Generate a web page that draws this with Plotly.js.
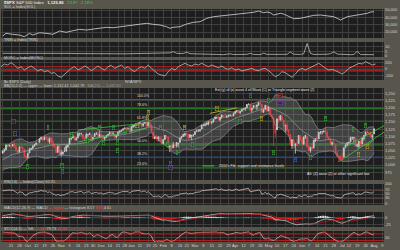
<!DOCTYPE html>
<html><head><meta charset="utf-8">
<script src="https://cdn.plot.ly/plotly-3.0.1.min.js"></script>
<style>html,body{margin:0;padding:0;background:#57554c;}#chart{width:400px;height:250px;}</style>
</head><body><div id="chart"></div>
<script>
// ---------- DATA ----------
// warm-up bars (Aug 14 - Sep 11 2009), used only for indicators
const warmOpen  = [1012,998,980,986,996,1010,1026,1026,1027,1027,1032,1026,1019,997,997,1004,1019,1025,1032,1045];
const warmHigh  = [1012,998,991,999,1008,1027,1035,1037,1033,1033,1040,1026,1028,1000,1004,1017,1026,1036,1045,1049];
const warmLow   = [995,979,980,980,993,1009,1024,1026,1021,1017,1021,1015,997,991,993,1001,1018,1023,1028,1039];
const warmClose = [1004,980,990,996,1007,1026,1026,1028,1028,1031,1029,1021,998,995,1003,1016,1025,1033,1044,1043];

// $SPX daily bars Sep 14 2009 - Aug 2 2010
const openP = [
1042,1049,1053,1068,1067,1066,1066,1072,1063,1050,1045,1063,1061,
1055,1029,1026,1042,1054,1058,1065,1071,1075,1079,1091,1094,1088,1098,1091,1080,1095,1080,1067,1061,1044,1066,
1037,1040,1047,1048,1064,1072,1092,1094,1098,1087,1094,1109,1110,1106,1094,1092,1106,1106,1105,1091,
1099,1109,1110,1100,1106,1103,1092,1096,1103,1107,1114,1108,1106,1097,1103,1114,1118,1121,1127,1128,1125,1127,
1117,1133,1136,1136,1141,1146,1144,1137,1146,1147,1136,1148,1138,1115,1092,1096,1092,1097,1086,
1074,1090,1101,1097,1064,1066,1060,1070,1068,1075,1079,1096,1099,1105,1110,1107,1096,1101,1104,
1106,1117,1119,1119,1125,1139,1137,1140,1143,1151,1148,1150,1160,1166,1166,1157,1166,1172,1168,1167,1168,1173,1172,
1171,1179,1186,1189,1182,1187,1194,1195,1199,1211,1210,1192,1199,1207,1203,1208,1217,1211,1184,1193,1207,
1188,1198,1169,1164,1127,1123,1156,1156,1170,1157,1137,1139,1119,1107,1068,1085,1068,1076,1075,1102,
1087,1073,1098,1099,1065,1050,1063,1059,1083,1096,1091,1114,1115,1116,1122,1113,1095,1090,1072,1077,1071,1041,
1031,1028,1029,1029,1061,1070,1078,1080,1095,1095,1094,1066,1065,1084,1073,1092,1102,1117,1113,1109,1098,
1108];
const highP = [
1050,1056,1072,1075,1071,1067,1073,1081,1067,1054,1065,1070,1064,
1055,1031,1043,1060,1059,1070,1073,1079,1075,1093,1097,1095,1099,1099,1101,1096,1095,1092,1073,1063,1068,1067,
1052,1047,1062,1067,1072,1094,1096,1106,1101,1097,1114,1111,1112,1106,1095,1112,1107,1111,1105,1098,
1112,1115,1118,1120,1107,1104,1098,1105,1109,1115,1114,1117,1106,1103,1118,1120,1121,1127,1131,1130,1127,1128,
1134,1137,1140,1143,1145,1150,1144,1148,1149,1148,1150,1148,1142,1116,1102,1104,1100,1100,1096,
1090,1105,1103,1097,1068,1072,1080,1073,1080,1077,1095,1100,1109,1112,1112,1108,1108,1103,1108,
1117,1124,1125,1124,1140,1141,1146,1148,1151,1154,1151,1160,1169,1167,1170,1167,1175,1173,1181,1174,1175,1177,1174,
1182,1188,1192,1190,1188,1195,1199,1199,1211,1213,1211,1198,1209,1208,1210,1217,1220,1212,1196,1210,1209,
1205,1198,1176,1168,1136,1163,1171,1172,1174,1157,1141,1148,1124,1107,1090,1090,1075,1090,1103,1102,
1095,1098,1105,1099,1070,1063,1077,1087,1092,1105,1115,1118,1118,1121,1131,1119,1100,1091,1083,1082,1071,1049,
1033,1033,1043,1061,1071,1078,1080,1099,1099,1097,1094,1075,1084,1087,1097,1104,1115,1121,1114,1115,1107,
1127];
const lowP = [
1039,1044,1053,1061,1064,1057,1066,1060,1045,1041,1045,1057,1048,
1029,1020,1026,1042,1052,1058,1065,1071,1067,1079,1087,1082,1087,1086,1080,1074,1074,1062,1059,1042,1044,1034,
1029,1034,1045,1048,1060,1072,1086,1094,1085,1085,1094,1102,1103,1088,1086,1092,1098,1106,1083,1085,
1099,1105,1099,1094,1098,1088,1085,1096,1101,1107,1105,1107,1092,1093,1103,1114,1116,1121,1125,1126,1122,1115,
1117,1129,1134,1131,1137,1142,1131,1133,1143,1131,1135,1130,1114,1090,1092,1085,1082,1078,1071,
1074,1087,1095,1062,1045,1056,1060,1061,1061,1062,1079,1091,1099,1100,1103,1089,1096,1086,1098,
1106,1116,1116,1116,1125,1136,1135,1140,1138,1146,1141,1148,1160,1160,1155,1152,1161,1165,1165,1163,1168,1168,1168,
1170,1179,1182,1181,1178,1187,1194,1188,1199,1208,1187,1184,1199,1199,1191,1206,1211,1181,1182,1193,1186,
1188,1167,1158,1066,1094,1123,1148,1156,1156,1127,1114,1117,1101,1071,1056,1073,1040,1066,1075,1084,
1069,1070,1091,1060,1050,1043,1053,1059,1081,1089,1091,1107,1106,1113,1108,1094,1087,1071,1068,1071,1036,1029,
1011,1018,1018,1026,1058,1066,1071,1080,1087,1080,1063,1062,1057,1068,1073,1085,1100,1108,1104,1095,1088,
1108];
const closeP = [
1049,1053,1069,1065,1068,1065,1072,1061,1051,1044,1063,1061,1057,
1030,1025,1040,1055,1058,1065,1071,1076,1073,1092,1097,1088,1098,1091,1081,1093,1080,1067,1063,1043,1066,1036,
1043,1045,1047,1067,1069,1093,1093,1099,1087,1093,1109,1110,1110,1095,1091,1106,1106,1111,1091,1096,
1109,1109,1100,1106,1103,1092,1096,1102,1106,1114,1108,1109,1096,1102,1114,1118,1121,1126,1128,1126,1126,1115,
1133,1137,1137,1142,1145,1147,1136,1146,1148,1136,1150,1138,1116,1092,1097,1092,1098,1085,1074,
1089,1103,1097,1063,1066,1057,1071,1068,1078,1076,1095,1100,1107,1109,1108,1095,1105,1103,1104,
1116,1118,1119,1123,1139,1139,1140,1146,1150,1150,1151,1159,1166,1166,1160,1166,1174,1168,1166,1167,1173,1173,1169,
1178,1187,1189,1182,1186,1194,1196,1197,1211,1212,1192,1198,1207,1206,1209,1217,1212,1184,1191,1207,1187,
1202,1174,1166,1128,1111,1160,1156,1172,1157,1136,1137,1121,1115,1072,1088,1074,1074,1068,1103,1089,
1071,1098,1103,1065,1050,1062,1056,1087,1092,1090,1115,1115,1116,1118,1113,1095,1092,1074,1077,1075,1041,1031,
1027,1023,1028,1060,1070,1078,1079,1095,1095,1096,1065,1071,1083,1070,1094,1103,1115,1114,1106,1102,1102,
1126];

// upper panel 1 (SOL): bar index / value
const solIdx = [0,2,6,10,13,16,18,22,26,30,34,38,42,46,50,54,58,62,66,70,74,78,82,86,90,94,98,100,102,106,110,114,118,122,126,130,134,138,142,146,150,153,156,158,160,162,166,168,172,174,178,182,186,190,194,198,200,202,206,210,214,218,220,222];
const solVal = [14500,18200,16850,15900,13570,18200,15900,19000,18200,16850,21350,19600,21750,23650,22700,23650,25050,26400,25850,27200,28600,29550,30900,31850,30500,29550,27200,25050,26400,27200,30900,33200,34050,38700,40850,41800,42750,43600,44550,45500,46850,48650,46300,47250,46300,43200,45500,44550,40050,38150,38700,40850,42750,43200,41800,40850,38700,36350,40850,42200,43200,45500,47250,47700];

// upper panel 2 (TRIN)
const trinIdx = [0,4,8,12,16,20,24,28,32,36,40,44,48,52,56,60,64,68,72,76,80,84,88,92,96,100,102,104,108,110,112,116,120,124,128,132,136,138,142,146,148,150,154,156,158,162,166,170,172,174,178,180,182,184,186,190,194,196,198,200,204,208,210,212,214,218,222];
const trinVal = [3.0,2.8,3.2,2.9,3.0,3.1,2.8,3.0,3.3,3.0,2.9,2.7,2.8,2.6,2.7,2.5,2.6,2.5,2.4,2.5,2.4,2.6,2.5,2.8,3.0,3.5,4.8,3.0,2.8,4.2,2.6,2.2,1.8,1.6,1.8,1.5,2.5,1.7,1.5,1.9,3.0,1.8,1.6,3.2,1.9,1.7,2.0,1.9,4.5,2.0,1.8,2.5,13.6,3.0,1.8,1.6,2.0,2.6,4.6,2.2,1.6,1.5,1.8,5.0,1.7,1.4,1.5];

// upper panel 3 (MOSC), one reading every second bar starting at bar -1
const moscVal = [74,159,127,201,127,21,74,-32,42,95,21,-63,-11,-85,-53,-137,-116,-222,-264,-159,-85,21,74,-32,21,95,42,-53,21,95,21,-32,74,116,21,74,127,21,74,-32,-85,21,74,21,127,21,-63,-159,-190,-222,-85,21,-32,74,127,180,127,95,159,127,180,
127,74,127,74,42,95,21,-11,42,-32,0,-63,-32,-11,21,-32,-53,0,21,-53,-137,-243,-190,-85,-116,-190,-264,-159,-32,21,-32,21,74,127,180,106,21,-32,-11,-53,-116,-159,-85,21,74,127,180,159,233,180,127,159];
const moscStart = -1, moscStep = 2;
const moscLevels = [70, -60];

// main panel horizontal levels (price) and their labels
const fibLevels = [1228, 1196, 1153, 1070, 1028, 990];
const fibLabels = ['100.0%', '78.6%', '61.8%', '50.0%', '38.2%', '23.6%'];
const fibColors = ['#2c7d3a', '#2f9a2f', '#2a6e2a', '#2f9a2f', '#2d4f86', '#2f9a2f'];

// trend lines drawn on the price panel (bar index, price)
const trendX = [[45, 88], [45, 86], [200.8, 229], [204, 229], [124, 140]];
const trendY = [[1122, 1147], [1080, 1129], [1011, 1118], [1060, 1140], [1180, 1199]];
const trendC = ['#3cc83c', '#3cc83c', '#3cc83c', '#3cc83c', '#c8c832'];

// wave labels on the price panel
const waveX = [6.2,7.4,27,14.6,35.5,35.5,41,58,66,51,60,68.4,68.4,75,80.5,86.4,87,94.2,98.4,100.2,100.2,104.4,109,113.4,148,166,166,158.9,128.3,142,155,193,217,209.7,218,162,175,184,212.8];
const waveY = [1150,1111,1129,994,1000,976,1105,1132,1132,1087,1080,1080,1052,1115,1139,1167,1184,1129,1070,1007,990,1045,1129,1070,1243,1243,1219,1226,1195,1153,1163,1163,1139,1122,1063,1042,1018,1025,1035];
const waveT = ['(Y)','C','i','ii','iv','5','a','b','d','c','e','c','ii','iv','w','y','3','a','b','v','(X)','i','b','ii','5','[2]','(W)','v','w','iv','x','b','iii','i','z','a','1','c','ii'];
const waveK = ['p','b','g','g','g','b','g','g','g','g','g','g','g','g','y','y','y','g','g','b','p','g','y','g','b','r','p','g','y','g','y','g','g','g','y','g','b','g','y'];

// calendar
const startDate = '2009-09-14';
const holidays = ['2009-11-26','2009-12-25','2010-01-01','2010-01-18','2010-02-15','2010-04-02','2010-05-31','2010-07-05'];
const futureBars = 5;
const MONTHS = ['Jan','Feb','Mar','Apr','May','Jun','Jul','Aug','Sep','Oct','Nov','Dec'];

// ---------- BUILD ----------
const F = 'Liberation Sans, Arial, sans-serif';
const COL = {panel:'#1e1e1e', grid:'#474747', txt:'#d4d4d4', up:'#e4e4e4', dn:'#ff2a2a', red:'#cc1c1c', teal:'#1d5a60'};
const WAVEC = {g:'#46c846', y:'#d2c83a', b:'#3f7fff', p:'#8a52c8', r:'#ff3030'};

const N = closeP.length;
const xs = closeP.map((_, i) => i);

function buildDates(n) {
  const out = []; const d = new Date(startDate + 'T00:00:00Z');
  while (out.length < n) {
    const iso = d.toISOString().slice(0, 10), dow = d.getUTCDay();
    if (dow !== 0 && dow !== 6 && !holidays.includes(iso)) out.push(new Date(d));
    d.setUTCDate(d.getUTCDate() + 1);
  }
  return out;
}
const dates = buildDates(N + futureBars);
const tickVals = [], tickText = []; let lastMonth = -1;
dates.forEach((d, i) => {
  if (!(i === 0 || d.getUTCDay() < dates[i - 1].getUTCDay())) return;
  const m = d.getUTCMonth(); tickVals.push(i);
  if (m !== lastMonth) { tickText.push(MONTHS[m]); lastMonth = m; } else tickText.push(String(d.getUTCDate()));
});

const W = warmClose.length;
const aH = warmHigh.concat(highP), aL = warmLow.concat(lowP), aC = warmClose.concat(closeP);

// Bollinger (20, 2)
const bbU = [], bbL = [], bbM = [];
for (let i = 0; i < N; i++) {
  const j = i + W; let s = 0; for (let k = j - 19; k <= j; k++) s += aC[k];
  const m = s / 20; let v = 0; for (let k = j - 19; k <= j; k++) v += (aC[k] - m) ** 2;
  const sd = Math.sqrt(v / 20); bbM.push(m); bbU.push(m + 2 * sd); bbL.push(m - 2 * sd);
}
// RSI 14
const rsiAll = new Array(aC.length).fill(null);
let ag = 0, al = 0;
for (let k = 1; k <= 14; k++) { const ch = aC[k] - aC[k - 1]; if (ch > 0) ag += ch; else al -= ch; }
ag /= 14; al /= 14; rsiAll[14] = 100 - 100 / (1 + ag / al);
for (let k = 15; k < aC.length; k++) { const ch = aC[k] - aC[k - 1]; ag = (ag * 13 + Math.max(ch, 0)) / 14; al = (al * 13 + Math.max(-ch, 0)) / 14; rsiAll[k] = al === 0 ? 100 : 100 - 100 / (1 + ag / al); }
const rsi = rsiAll.slice(W);
// MACD 12,26,9
function ema(arr, n) { const a = 2 / (n + 1); const out = [arr[0]]; for (let k = 1; k < arr.length; k++) out.push(a * arr[k] + (1 - a) * out[k - 1]); return out; }
const e12 = ema(aC, 12), e26 = ema(aC, 26);
const macdAll = aC.map((_, k) => e12[k] - e26[k]);
const sigAll = ema(macdAll, 9);
const macd = macdAll.slice(W), sig = sigAll.slice(W), hist = macd.map((m, i) => m - sig[i]);
// Stochastic 14,3
const rawK = aC.map((c, k) => { if (k < 13) return null; let hh = -Infinity, ll = Infinity; for (let q = k - 13; q <= k; q++) { hh = Math.max(hh, aH[q]); ll = Math.min(ll, aL[q]); } return (c - ll) / (hh - ll) * 100; });
const slowK = rawK.map((_, k) => k < 15 ? null : (rawK[k] + rawK[k - 1] + rawK[k - 2]) / 3);
const slowD = slowK.map((_, k) => k < 17 ? null : (slowK[k] + slowK[k - 1] + slowK[k - 2]) / 3);
const stK = slowK.slice(W), stD = slowD.slice(W);

const ln = (x, y, ya, color, w, extra) => Object.assign({type:'scatter', mode:'lines', x, y, yaxis:ya, xaxis:'x', line:{color, width:w}, hoverinfo:'skip', showlegend:false}, extra || {});

const traces = [];
traces.push(ln(solIdx, solVal, 'y', '#d8d8d8', 0.8));
traces.push(ln(trinIdx, trinVal, 'y2', '#cfcfcf', 0.7));
traces.push(ln(moscVal.map((_, i) => moscStart + i * moscStep), moscVal, 'y3', '#cfcfcf', 0.7));
traces.push(ln(xs, bbU, 'y4', '#9a9a9a', 0.6));
traces.push(ln(xs, bbL, 'y4', '#9a9a9a', 0.6, {fill:'tonexty', fillcolor:'rgba(150,150,150,0.30)'}));
traces.push(ln(xs, bbM, 'y4', '#a8a8a8', 0.6));
trendX.forEach((tx, i) => traces.push(ln(tx, trendY[i], 'y4', trendC[i], 0.8)));
traces.push({type:'candlestick', x:xs, open:openP, high:highP, low:lowP, close:closeP, xaxis:'x', yaxis:'y4',
  increasing:{line:{color:COL.up, width:0.8}, fillcolor:COL.up}, decreasing:{line:{color:COL.dn, width:0.8}, fillcolor:COL.dn},
  whiskerwidth:0, hoverinfo:'skip', showlegend:false});
traces.push(ln(xs, rsi, 'y5', '#d0d0d0', 0.7));
traces.push({type:'bar', x:xs, y:hist, xaxis:'x', yaxis:'y6', marker:{color:hist.map(h => h >= 0 ? '#e8e8e8' : '#ff2020'), line:{width:0}}, width:0.8, hoverinfo:'skip', showlegend:false});
traces.push(ln(xs, macd, 'y6', '#d8d8d8', 0.7));
traces.push(ln(xs, sig, 'y6', '#c01818', 0.7));
traces.push(ln(xs, stK, 'y7', '#d0d0d0', 0.7));
traces.push(ln(xs, stD, 'y7', '#c01818', 0.6));

const hline = (ya, y, color, w) => ({type:'line', xref:'x domain', x0:0, x1:1, yref:ya, y0:y, y1:y, line:{color, width:w}, layer:'below'});
const shapes = [];
moscLevels.forEach(v => shapes.push(hline('y3', v, COL.red, 1.1)));
shapes.push(hline('y3', 0, COL.teal, 0.8));
fibLevels.forEach((v, i) => shapes.push(hline('y4', v, fibColors[i], 0.9)));
shapes.push(hline('y5', 70, COL.red, 1)); shapes.push(hline('y5', 30, COL.red, 1));
shapes.push(hline('y6', 0, COL.teal, 0.8));
shapes.push(hline('y7', 80, COL.red, 1)); shapes.push(hline('y7', 20, COL.red, 1));
shapes.push({type:'line', xref:'x', yref:'y4', x0:119.5, x1:126.5, y0:997, y1:997, line:{color:'#3cc83c', width:1}});

const fmt = v => v.toLocaleString('en-US', {minimumFractionDigits:2, maximumFractionDigits:2});
const L = N - 1;
const pa = (txt, x, y, size, color, anchor) => ({xref:'paper', yref:'paper', x, y, text:txt, showarrow:false, xanchor:anchor || 'left', yanchor:'middle', font:{size, color:color || COL.txt, family:F}});
const R = '#ff3a3a';
const ann = [];
ann.push(pa('<b>$SPX</b> S&amp;P 500 Index   <b>1,125.86</b>   <span style="color:#35d835">23.97   2.18%</span>', 0.003, 1.0266, 4.2, '#f0f0f0'));
ann.push(pa('SOL = Index(SOL)', 0.003, 1.0094, 3.8));
ann.push(pa('TRIN = Index(TRIN)', 0.003, 0.8670, 3.8));
ann.push(pa('MOSC = Index(MOSC)', 0.003, 0.7876, 3.8));
ann.push(pa('$n $SPX (Daily)', 0.003, 0.6888, 3.8));
ann.push(pa('NYA/SPX', 0.318, 0.6888, 3.8));
ann.push(pa('BB(20,2.0) — upper — lower ' + fmt(bbU[L]) + ' ' + fmt(bbL[L]) + '   <span style="color:#9a9a9a">MA(20) — ' + fmt(bbM[L]) + '</span>', 0.003, 0.6704, 3.8));
ann.push(pa('RSI(14) — Index(Close) ' + rsi[L].toFixed(2), 0.003, 0.2575, 3.8));
ann.push(pa('MACD(12,26,9) — MACD <span style="color:' + R + '">— signal</span> — histogram ' + macd[L].toFixed(2) + ' <span style="color:' + R + '">' + sig[L].toFixed(2) + '</span> ' + hist[L].toFixed(2), 0.003, 0.1438, 3.8));
ann.push(pa('STO(14,3) — %K <span style="color:' + R + '">— %D</span> ' + stK[L].toFixed(2) + ' <span style="color:' + R + '">' + stD[L].toFixed(2) + '</span>', 0.003, 0.0558, 3.8));

fibLevels.forEach((v, i) => ann.push({xref:'x', yref:'y4', x:79, y:v, text:fibLabels[i], showarrow:false, xanchor:'left', yanchor:'bottom', yshift:-0.5, font:{size:3.6, color:'#d8d8d8', family:F}}));
waveX.forEach((x, i) => {
  const c = WAVEC[waveK[i]];
  ann.push({xref:'x', yref:'y4', x, y:waveY[i], text:waveT[i], showarrow:false, font:{size:3.4, color:c, family:F}, bgcolor:'rgba(20,20,20,0.6)', bordercolor:c, borderwidth:0.4, borderpad:0});
});
ann.push({xref:'x', yref:'y4', x:157, y:1261, text:'Ext (y) of (z) wave 4 of Wave (C) or Triangle segment wave (2)', showarrow:false, font:{size:3.6, color:'#e6e6e6', family:F}});
ann.push({xref:'x', yref:'y4', x:128, y:997, text:"2010's Fib. support and resistance levels", showarrow:false, xanchor:'left', font:{size:3.6, color:'#e6e6e6', family:F}});
ann.push({xref:'x', yref:'y4', x:200.6, y:969, text:'Alt: (Z) wave (2) or other significant low', showarrow:false, font:{size:3.6, color:'#e6e6e6', family:F}});

const yax = (domain, range, tv, tt) => ({domain, range, tickvals:tv, ticktext:tt || tv.map(String), side:'right', anchor:'x', showgrid:true, gridcolor:COL.grid, gridwidth:0.8, zeroline:false, showline:false, ticks:'', tickfont:{size:4, color:COL.txt, family:F}, fixedrange:true});
const mainTicks = [975,1000,1025,1050,1075,1100,1125,1150,1175,1200,1225,1250];

const layout = {
  width:400, height:250, margin:{l:1, r:16, t:9, b:8, pad:0},
  paper_bgcolor:'#57554c', plot_bgcolor:COL.panel, showlegend:false, dragmode:false,
  xaxis:{domain:[0,1], range:[-1,228], anchor:'y7', tickvals:tickVals, ticktext:tickText, tickangle:0, showgrid:true, gridcolor:COL.grid, gridwidth:0.8, zeroline:false, showline:false, ticks:'', tickfont:{size:4, color:COL.txt, family:F}, rangeslider:{visible:false}, fixedrange:true},
  yaxis: yax([0.8755,1], [11800,51400], [50000,40000,30000,20000], ['50,000','40,000','30,000','20,000']),
  yaxis2:yax([0.794,0.8584], [-1,15.3], [10,5,0]),
  yaxis3:yax([0.6953,0.7811], [-349,286], [200,0,-200]),
  yaxis4:yax([0.2661,0.6609], [948,1268], mainTicks, mainTicks.map(v => v.toLocaleString('en-US'))),
  yaxis5:yax([0.1588,0.2489], [-5,100], [100,70,50,30,0]),
  yaxis6:yax([0.0644,0.1288], [-36,23.5], [0,-25]),
  yaxis7:yax([0,0.0472], [8,106], [50]),
  shapes, annotations:ann
};
Plotly.newPlot('chart', traces, layout, {staticPlot:true, displayModeBar:false});
</script></body></html>
